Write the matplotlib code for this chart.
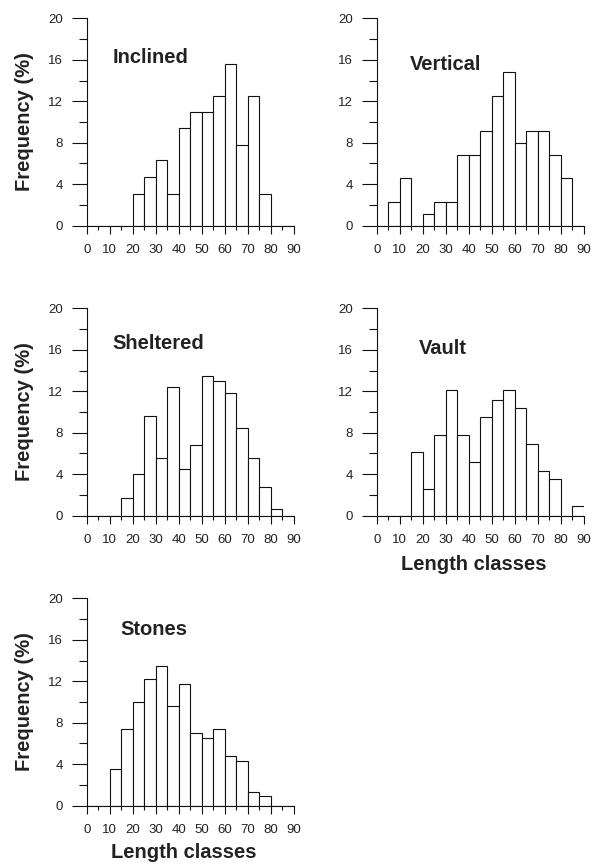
import numpy as np
import matplotlib.pyplot as plt
from matplotlib.ticker import MultipleLocator

plt.rcParams["font.family"] = ["Liberation Sans", "DejaVu Sans"]

# ─────────────────────────────────────────────────────────────
# Data: frequency (%) per 5-unit length class, classes start 0..85
# ─────────────────────────────────────────────────────────────
class_starts = np.arange(0, 90, 5)

inclined = [0, 0, 0, 0, 3.1, 4.7, 6.3, 3.1, 9.4, 11.0, 11.0, 12.5, 15.6, 7.8, 12.5, 3.1, 0, 0]
vertical = [0, 2.3, 4.6, 0, 1.1, 2.3, 2.3, 6.8, 6.8, 9.1, 12.5, 14.8, 8.0, 9.1, 9.1, 6.8, 4.6, 0]
sheltered = [0, 0, 0, 1.7, 4.0, 9.6, 5.6, 12.4, 4.5, 6.8, 13.5, 13.0, 11.8, 8.5, 5.6, 2.8, 0.6, 0]
vault = [0, 0, 0, 6.1, 2.6, 7.8, 12.1, 7.8, 5.2, 9.5, 11.2, 12.1, 10.4, 6.9, 4.3, 3.5, 0, 0.9]
stones = [0, 0, 3.5, 7.4, 10.0, 12.2, 13.5, 9.6, 11.7, 7.0, 6.5, 7.4, 4.8, 4.3, 1.3, 0.9, 0, 0]

panel_names = ["Inclined", "Vertical", "Sheltered", "Vault", "Stones"]
panel_values = [inclined, vertical, sheltered, vault, stones]
# label position (data coords) of each panel name
name_pos = [(11.3, 16.2), (14.2, 15.5), (11.3, 16.6), (18.5, 16.15), (14.5, 16.95)]

W, H = 596, 866
fig = plt.figure(figsize=(W / 100, H / 100), dpi=100)

ax_w, ax_h = 207.3 / W, 207.4 / H
lefts = [86.7 / W, 376.7 / W]
bottoms = [1 - 225.7 / H, 1 - 515.7 / H, 1 - 805.7 / H]
slots = [(0, 0), (1, 0), (0, 1), (1, 1), (0, 2)]

for name, vals, (col, row), (tx, ty) in zip(panel_names, panel_values, slots, name_pos):
    ax = fig.add_axes([lefts[col], bottoms[row], ax_w, ax_h])
    ax.bar(class_starts, vals, width=5, align="edge", color="white",
           edgecolor="#111111", linewidth=0.8)
    ax.set_xlim(0, 90)
    ax.set_ylim(0, 20)
    for s in ["top", "right"]:
        ax.spines[s].set_visible(False)
    for s in ["left", "bottom"]:
        ax.spines[s].set_linewidth(0.8)
        ax.spines[s].set_color("#111111")
    ax.xaxis.set_major_locator(MultipleLocator(10))
    ax.xaxis.set_minor_locator(MultipleLocator(5))
    ax.yaxis.set_major_locator(MultipleLocator(4))
    ax.yaxis.set_minor_locator(MultipleLocator(2))
    ax.tick_params(axis="y", which="major", length=11, width=0.8, pad=6,
                   labelsize=9.5, colors="#111111", labelcolor="#222222")
    ax.tick_params(axis="y", which="minor", length=5.5, width=0.8, colors="#111111")
    ax.tick_params(axis="x", which="major", length=6, width=0.8, pad=7,
                   labelsize=9.5, colors="#111111", labelcolor="#222222")
    ax.tick_params(axis="x", which="minor", length=3, width=0.8, colors="#111111")
    ax.text(tx, ty, name, fontsize=14.5, fontweight="bold", color="#222222",
            ha="left", va="center")
    if col == 0:
        fig.text(25 / W, bottoms[row] + ax_h / 2, "Frequency (%)", rotation=90,
                 fontsize=14.5, fontweight="bold", color="#222222",
                 ha="center", va="center")

fig.text(474 / W, 1 - 565 / H, "Length classes", fontsize=14.5,
         fontweight="bold", color="#222222", ha="center", va="center")
fig.text(184 / W, 1 - 853 / H, "Length classes", fontsize=14.5,
         fontweight="bold", color="#222222", ha="center", va="center")

plt.savefig("out.png", dpi=100)
plt.close()
